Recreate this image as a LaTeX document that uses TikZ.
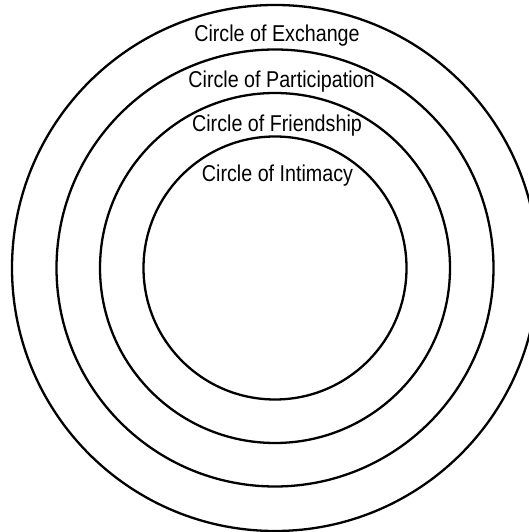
\documentclass[tikz,border=0pt]{standalone}
\usepackage{fontspec}
\setmainfont{Liberation Sans}
\usepackage{tikz}

\begin{document}
\begin{tikzpicture}[x=1bp,y=1bp,
    ring/.style={line width=2.3bp,black},
    lbl/.style={anchor=base,inner sep=0pt,xscale=0.86,font=\fontsize{23}{27}\selectfont}]
  \useasboundingbox (0,0) rectangle (529,532);
  \clip (0,0) rectangle (529,532);
  \coordinate (c) at (275,264);
  % rings, outer to inner
  \draw[ring] (c) circle (263);
  \draw[ring] (c) circle (218.5);
  \draw[ring] (c) circle (175);
  \draw[ring] (c) circle (131.5);
  % labels
  \node[lbl] (exch) at (277,490.3) {Circle of Exchange};
  \node[lbl] (part) at (281.5,444.7) {Circle of Participation};
  \node[lbl] (friend) at (277,400.3) {Circle of Friendship};
  \node[lbl] (intim) at (277.5,350.3) {Circle of Intimacy};
\end{tikzpicture}
\end{document}
